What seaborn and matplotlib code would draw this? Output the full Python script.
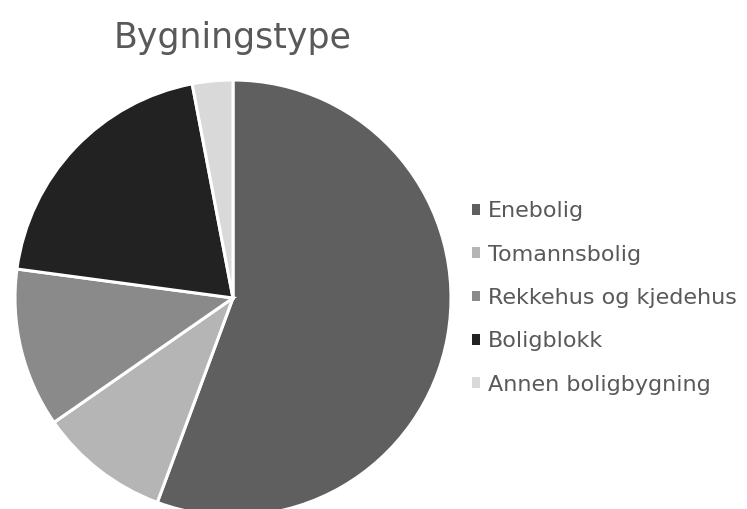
import matplotlib.pyplot as plt
import seaborn as sns

categories = ['Enebolig', 'Tomannsbolig', 'Rekkehus og kjedehus', 'Boligblokk', 'Annen boligbygning']
shares = [55.7, 9.7, 11.8, 19.9, 3.0]
colors = ['#5f5f5f', '#b5b5b5', '#8a8a8a', '#222222', '#d9d9d9']

sns.set_theme(style='white')
plt.rcParams['font.family'] = ['DejaVu Sans']

fig = plt.figure(figsize=(7.47, 5.09), dpi=100)
ax = fig.add_axes([15 / 747, -7 / 509, 436 / 747, 436 / 509])

wedges, _ = ax.pie(shares, colors=colors, startangle=90, counterclock=False,
                   wedgeprops=dict(edgecolor='white', linewidth=2.2))
ax.set_xlim(-1, 1)
ax.set_ylim(-1, 1)
ax.set_aspect('equal')

fig.text(233 / 747, 1 - 38 / 509, 'Bygningstype', ha='center', va='center',
         fontsize=25, color='#595959')

leg = fig.legend(wedges, categories, loc='center left',
                 bbox_to_anchor=(452 / 747, 1 - 298 / 509), frameon=False,
                 fontsize=16, handlelength=0.36, handleheight=0.36,
                 handletextpad=0.35, labelspacing=1.05)
for t in leg.get_texts():
    t.set_color('#595959')
for h in leg.legend_handles:
    h.set_edgecolor('none')

fig.savefig('out.png', dpi=100)
